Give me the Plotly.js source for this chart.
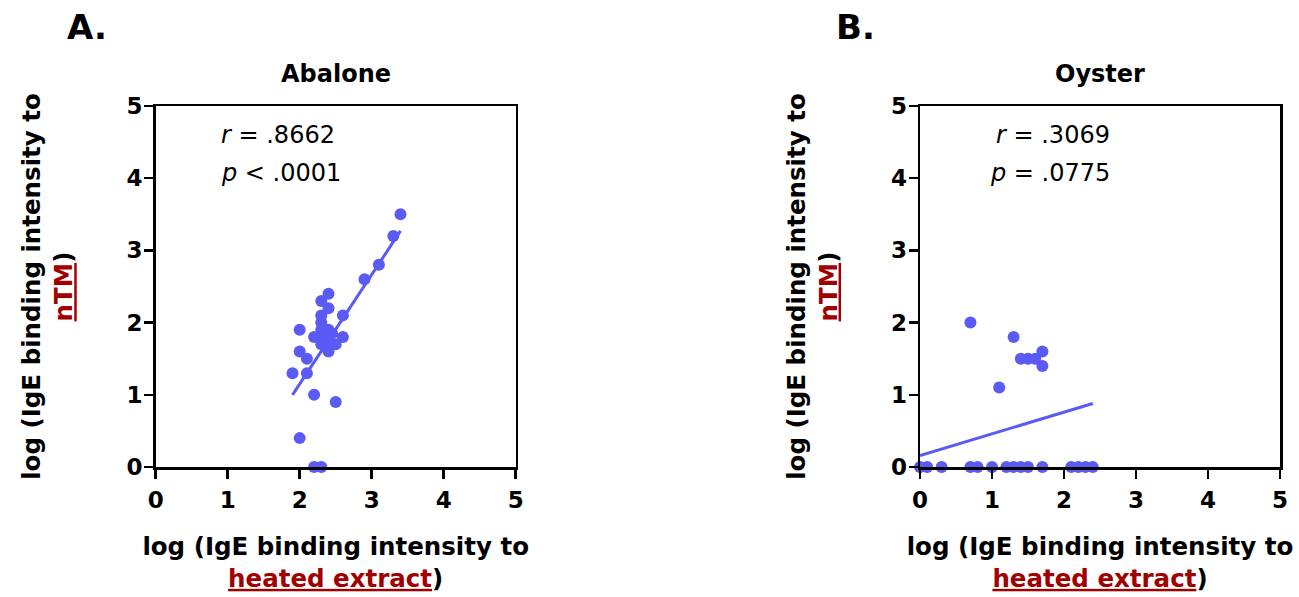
<!DOCTYPE html>
<html>
<head>
<meta charset="utf-8">
<script src="https://cdn.plot.ly/plotly-3.0.1.min.js"></script>
<style>html,body{margin:0;padding:0;background:#fff;}#chart{width:1299px;height:597px;}</style>
</head>
<body>
<div id="chart"></div>
<script>
// ---- Data ----
const abaloneX = [3.4, 3.3, 3.1, 2.9, 2.6, 2.4, 2.3, 2.4, 2.3, 2.3, 2.0, 2.4, 2.2, 2.6, 2.3, 2.45, 2.35, 2.5, 2.4, 2.0, 2.1, 1.9, 2.1, 2.2, 2.5, 2.0, 2.2, 2.3, 2.3, 2.35, 2.4, 2.3];
const abaloneY = [3.5, 3.2, 2.8, 2.6, 2.1, 2.4, 2.3, 2.2, 2.1, 2.0, 1.9, 1.9, 1.8, 1.8, 1.8, 1.85, 1.7, 1.7, 1.6, 1.6, 1.5, 1.3, 1.3, 1.0, 0.9, 0.4, 0, 0, 1.9, 1.85, 1.75, 1.7];
const abaloneFitX = [1.9, 3.4];
const abaloneFitY = [1.0, 3.27];

const oysterX = [0.7, 1.3, 1.1, 1.4, 1.5, 1.6, 1.7, 1.7, 0, 0.1, 0.3, 0.7, 0.8, 1.0, 1.2, 1.3, 1.4, 1.5, 1.7, 2.1, 2.2, 2.3, 2.4];
const oysterY = [2.0, 1.8, 1.1, 1.5, 1.5, 1.5, 1.6, 1.4, 0, 0, 0, 0, 0, 0, 0, 0, 0, 0, 0, 0, 0, 0, 0];
const oysterFitX = [0, 2.4];
const oysterFitY = [0.16, 0.88];

const tickValues = [0, 1, 2, 3, 4, 5];
const tickLabels = ['0', '1', '2', '3', '4', '5'];
const panelTitles = ['Abalone', 'Oyster'];
const panelLetters = ['A.', 'B.'];
const statsLine1 = ['<i>r</i> = .8662', '<i>r</i> = .3069'];
const statsLine2 = ['<i>p</i> &lt; .0001', '<i>p</i> = .0775'];
const xTitle = 'log (IgE binding intensity to<br><span style="color:#a00000"><u>heated extract</u></span>)';
const yTitle = 'log (IgE binding intensity to<br><span style="color:#a00000"><u>nTM</u></span>)';

// ---- Styling ----
const FONT = 'DejaVu Sans';
const DOT = '#5a5af5';
const W = 1299, H = 597;
const px = v => v / W;
const py = v => 1 - v / H;

const domA = [px(155.7), px(515.7)];
const domB = [px(920), px(1280)];
const domY = [py(467), py(106)];

function scatter(x, y, xa, ya) {
  return { x, y, xaxis: xa, yaxis: ya, type: 'scatter', mode: 'markers', cliponaxis: false,
    marker: { color: DOT, size: 12, line: { width: 0 } }, hoverinfo: 'x+y', showlegend: false };
}
function fit(x, y, xa, ya) {
  return { x, y, xaxis: xa, yaxis: ya, type: 'scatter', mode: 'lines', cliponaxis: false,
    line: { color: DOT, width: 3 }, hoverinfo: 'skip', showlegend: false };
}

const data = [
  fit(abaloneFitX, abaloneFitY, 'x', 'y'),
  scatter(abaloneX, abaloneY, 'x', 'y'),
  fit(oysterFitX, oysterFitY, 'x2', 'y2'),
  scatter(oysterX, oysterY, 'x2', 'y2')
];

const tickFont = { family: FONT, size: 23, color: '#000', weight: 'bold' };
const titleFont = { family: FONT, size: 24.5, color: '#000', weight: 'bold' };

function xaxis(domain, anchor) {
  return { domain, anchor, range: [0, 5], tickvals: tickValues, ticktext: tickLabels,
    ticks: 'outside', ticklen: 9, tickwidth: 2.5, tickcolor: '#000',
    showline: true, linewidth: 2.5, linecolor: '#000', mirror: true,
    showgrid: false, zeroline: false, automargin: false,
    tickfont: tickFont, ticklabelstandoff: 2,
    title: { text: xTitle, standoff: 26, font: titleFont } };
}
function yaxis(domain, anchor) {
  return { domain, anchor, range: [0, 5], tickvals: tickValues, ticktext: tickLabels,
    ticks: 'outside', ticklen: 9, tickwidth: 2.5, tickcolor: '#000',
    showline: true, linewidth: 2.5, linecolor: '#000', mirror: true,
    showgrid: false, zeroline: false, automargin: false,
    tickfont: tickFont, ticklabelstandoff: -3,
    title: { text: yTitle, standoff: 47, font: titleFont } };
}

const annotations = [];
[domA, domB].forEach((d, i) => {
  annotations.push({ xref: 'paper', yref: 'paper', x: (d[0] + d[1]) / 2, y: py(74), xanchor: 'center', yanchor: 'middle',
    text: panelTitles[i], showarrow: false, font: { family: FONT, size: 24, color: '#000', weight: 'bold' } });
});
annotations.push({ xref: 'paper', yref: 'paper', x: px(86.5), y: py(27), xanchor: 'center', yanchor: 'middle',
  text: panelLetters[0], showarrow: false, font: { family: FONT, size: 34, color: '#000', weight: 'bold' } });
annotations.push({ xref: 'paper', yref: 'paper', x: px(855.5), y: py(27), xanchor: 'center', yanchor: 'middle',
  text: panelLetters[1], showarrow: false, font: { family: FONT, size: 34, color: '#000', weight: 'bold' } });
// stats text
const statFont = { family: FONT, size: 24, color: '#000' };
annotations.push({ xref: 'x', yref: 'y', x: 0.88, y: 4.6, xanchor: 'left', yanchor: 'middle', text: statsLine1[0], showarrow: false, font: statFont });
annotations.push({ xref: 'x', yref: 'y', x: 0.88, y: 4.07, xanchor: 'left', yanchor: 'middle', text: statsLine2[0], showarrow: false, font: statFont });
annotations.push({ xref: 'x2', yref: 'y2', x: 2.67, y: 4.6, xanchor: 'right', yanchor: 'middle', text: statsLine1[1], showarrow: false, font: statFont });
annotations.push({ xref: 'x2', yref: 'y2', x: 2.67, y: 4.07, xanchor: 'right', yanchor: 'middle', text: statsLine2[1], showarrow: false, font: statFont });

const layout = {
  width: W, height: H,
  margin: { l: 0, r: 0, t: 0, b: 0, pad: 0 },
  paper_bgcolor: '#fff', plot_bgcolor: '#fff',
  showlegend: false,
  font: { family: FONT, color: '#000' },
  xaxis: xaxis(domA, 'y'),
  yaxis: yaxis(domY, 'x'),
  xaxis2: xaxis(domB, 'y2'),
  yaxis2: yaxis(domY, 'x2'),
  annotations
};

Plotly.newPlot('chart', data, layout, { displayModeBar: false, staticPlot: true });
</script>
</body>
</html>
